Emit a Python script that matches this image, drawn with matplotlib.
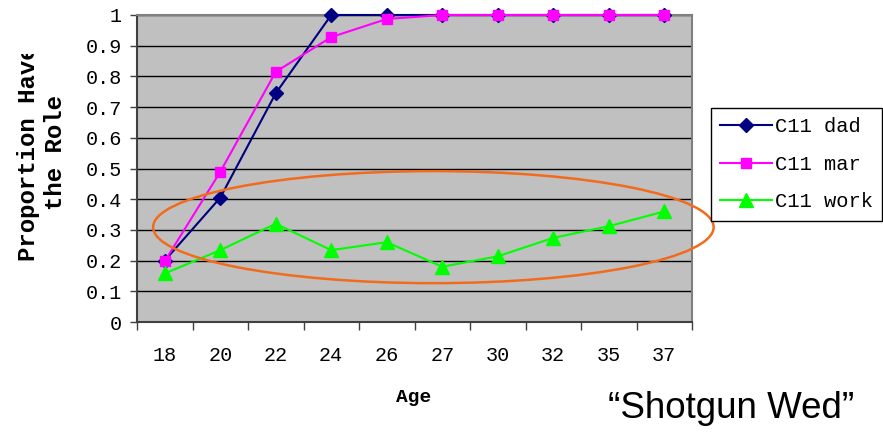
import matplotlib
matplotlib.use('Agg')
import matplotlib.pyplot as plt
from matplotlib.patches import Ellipse
from matplotlib.transforms import Bbox, TransformedBbox
from matplotlib.font_manager import FontProperties

# ---- data ----
ages = ['18', '20', '22', '24', '26', '27', '30', '32', '35', '37']
dad = [0.20, 0.405, 0.745, 1.0, 1.0, 1.0, 1.0, 1.0, 1.0, 1.0]
mar = [0.198, 0.489, 0.815, 0.928, 0.987, 1.0, 1.0, 1.0, 1.0, 1.0]
work = [0.158, 0.234, 0.32, 0.234, 0.26, 0.18, 0.214, 0.274, 0.312, 0.36]
series_names = ['C11 dad', 'C11 mar', 'C11 work']
yticks = [0, 0.1, 0.2, 0.3, 0.4, 0.5, 0.6, 0.7, 0.8, 0.9, 1.0]
ytick_labels = ['0', '0.1', '0.2', '0.3', '0.4', '0.5', '0.6', '0.7', '0.8', '0.9', '1']

W, H = 883, 433
fig = plt.figure(figsize=(W / 100, H / 100), dpi=100)
ax = fig.add_axes([137 / W, 1 - 322 / H, 555 / W, 307 / H])
ax.set_facecolor('#C0C0C0')

x = list(range(len(ages)))
mono = 'Liberation Mono'

ax.plot(x, dad, color='#000080', lw=1.5, marker='D', ms=7, mfc='#000080', mec='#000080',
        label=series_names[0], zorder=3, clip_on=False)
ax.plot(x, mar, color='#FF00FF', lw=1.5, marker='s', ms=7.5, mfc='#FF00FF', mec='#FF00FF',
        label=series_names[1], zorder=4, clip_on=False)
ax.plot(x, work, color='#00FF00', lw=1.5, marker='^', ms=9.5, mfc='#00FF00', mec='#00FF00',
        label=series_names[2], zorder=5, clip_on=False)

ax.set_xlim(-0.5, len(ages) - 0.5)
ax.set_ylim(0, 1)

ax.set_yticks(yticks)
ax.set_yticklabels(ytick_labels, family=mono, fontsize=14.5)
ax.yaxis.grid(True, color='black', lw=1)
ax.set_axisbelow(True)
ax.tick_params(axis='y', direction='out', length=5, width=1, color='#404040', pad=6)

ax.set_xticks(x)
ax.set_xticklabels(ages, family=mono, fontsize=14.5)
ax.set_xticks([i - 0.5 for i in range(len(ages) + 1)], minor=True)
ax.tick_params(axis='x', which='major', length=0, pad=17)
ax.tick_params(axis='x', which='minor', direction='out', length=6, width=1, color='#404040')

for s in ax.spines.values():
    s.set_color('#808080')
    s.set_linewidth(1.5)
ax.spines['left'].set_color('#404040')
ax.spines['bottom'].set_color('#404040')

# orange ellipse
ell = Ellipse((4.84, 0.309), width=10.1, height=0.365, fill=False,
              edgecolor='#F26B1D', lw=1.8, clip_on=False, zorder=6)
ax.add_patch(ell)

# y label (clipped at top as in the original)
t = fig.text(42 / W, 1 - 153 / H, 'Proportion Have\nthe Role', rotation=90,
             ha='center', va='center', multialignment='center', family=mono,
             weight='bold', fontsize=17.3, linespacing=1.25)
t.set_clip_box(TransformedBbox(Bbox.from_extents(0, 0, 1, 1 - 54 / H), fig.transFigure))
t.set_clip_on(True)

fig.text(414 / W, 1 - 397 / H, 'Age', ha='center', va='center', family=mono,
         weight='bold', fontsize=14)

fig.text(731 / W, 1 - 409 / H, '\u201cShotgun Wed\u201d', ha='center', va='center',
         family='Liberation Sans', fontsize=26.5)

leg = fig.legend(loc='upper left', bbox_to_anchor=(711 / W, 1 - 108 / H),
                 bbox_transform=fig.transFigure, borderaxespad=0, frameon=True,
                 fancybox=False, edgecolor='black', framealpha=1,
                 prop=FontProperties(family=mono, size=14.8),
                 handlelength=2.5, handletextpad=0.15, labelspacing=0.9, borderpad=0.45)
leg.get_frame().set_linewidth(1)

fig.savefig('out.png', dpi=100)
